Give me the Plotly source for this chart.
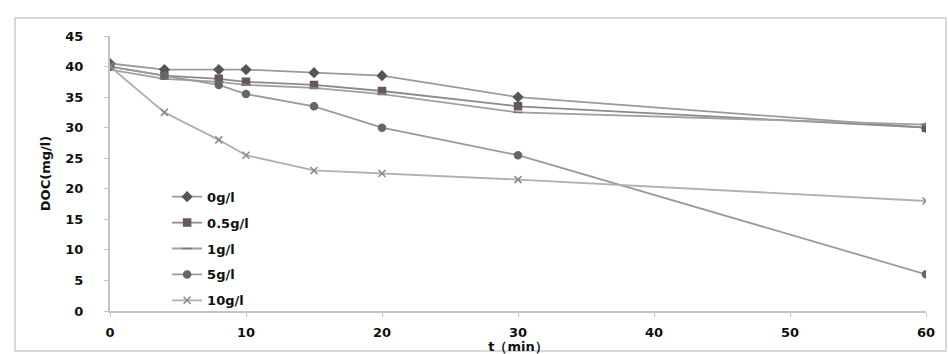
import plotly.graph_objects as go

# time (min)
t = [0, 4, 8, 10, 15, 20, 30, 60]

series_names = ["0g/l", "0.5g/l", "1g/l", "5g/l", "10g/l"]
s_0 = [40.5, 39.5, 39.5, 39.5, 39.0, 38.5, 35.0, 30.0]
s_05 = [40.0, 38.5, 38.0, 37.5, 37.0, 36.0, 33.5, 30.0]
s_1 = [39.5, 38.0, 37.5, 37.0, 36.5, 35.5, 32.5, 30.5]
s_5 = [40.0, 38.5, 37.0, 35.5, 33.5, 30.0, 25.5, 6.0]
s_10 = [40.0, 32.5, 28.0, 25.5, 23.0, 22.5, 21.5, 18.0]

x_ticks = [0, 10, 20, 30, 40, 50, 60]
y_ticks = [0, 5, 10, 15, 20, 25, 30, 35, 40, 45]

values = [s_0, s_05, s_1, s_5, s_10]
symbols = ["diamond", "square", "line-ew-open", "circle", "x-thin-open"]
mcolors = ["#555555", "#6a5560", "#777777", "#666666", "#888888"]
lcolors = ["#9a9a9a", "#8a8a8a", "#a0a0a0", "#9a9a9a", "#b0b0b0"]

FONT = "DejaVu Sans, Arial, sans-serif"

fig = go.Figure()
for i, (name, v) in enumerate(zip(series_names, values)):
    fig.add_trace(go.Scatter(
        x=t, y=v, name=name, mode="lines+markers",
        legendgroup=name,
        line=dict(color=lcolors[i], width=1.8),
        marker=dict(symbol=symbols[i], size=7, color=mcolors[i],
                    line=dict(color=mcolors[i], width=1.5)),
    ))

fig.update_layout(
    width=948, height=354,
    margin=dict(l=110, r=22, t=36, b=43, autoexpand=False),
    paper_bgcolor="white", plot_bgcolor="white",
    font=dict(family=FONT, size=13, color="#111111", weight="bold"),
    legend=dict(x=0.07, y=0.47, xanchor="left", yanchor="top",
                bgcolor="rgba(0,0,0,0)", tracegroupgap=6,
                font=dict(size=13, color="#111111", weight="bold")),
    xaxis=dict(range=[0, 60], tickvals=x_ticks, showgrid=False, zeroline=False,
               showline=True, linecolor="#c4c4c4", linewidth=2,
               ticks="outside", ticklen=4, tickcolor="#c4c4c4",
               ticklabelstandoff=4, automargin=False,
               tickfont=dict(size=13, weight="bold"),
               title=dict(text="t（min）", standoff=6,
                          font=dict(size=13, weight="bold"))),
    yaxis=dict(range=[0, 45], tickvals=y_ticks, showgrid=False, zeroline=False,
               showline=True, linecolor="#c4c4c4", linewidth=2,
               ticks="outside", ticklen=4, tickcolor="#c4c4c4",
               ticklabelstandoff=18, automargin=False,
               tickfont=dict(size=13, weight="bold"),
               title=dict(text="DOC(mg/l)", standoff=12,
                          font=dict(size=13, weight="bold"))),
    shapes=[dict(type="rect", xref="paper", yref="paper",
                 x0=-0.1164, x1=1.0245, y0=-0.1455, y1=1.0655,
                 line=dict(color="#d8d8d8", width=2), fillcolor="rgba(0,0,0,0)",
                 layer="below")],
)

fig.write_html("out.html")
